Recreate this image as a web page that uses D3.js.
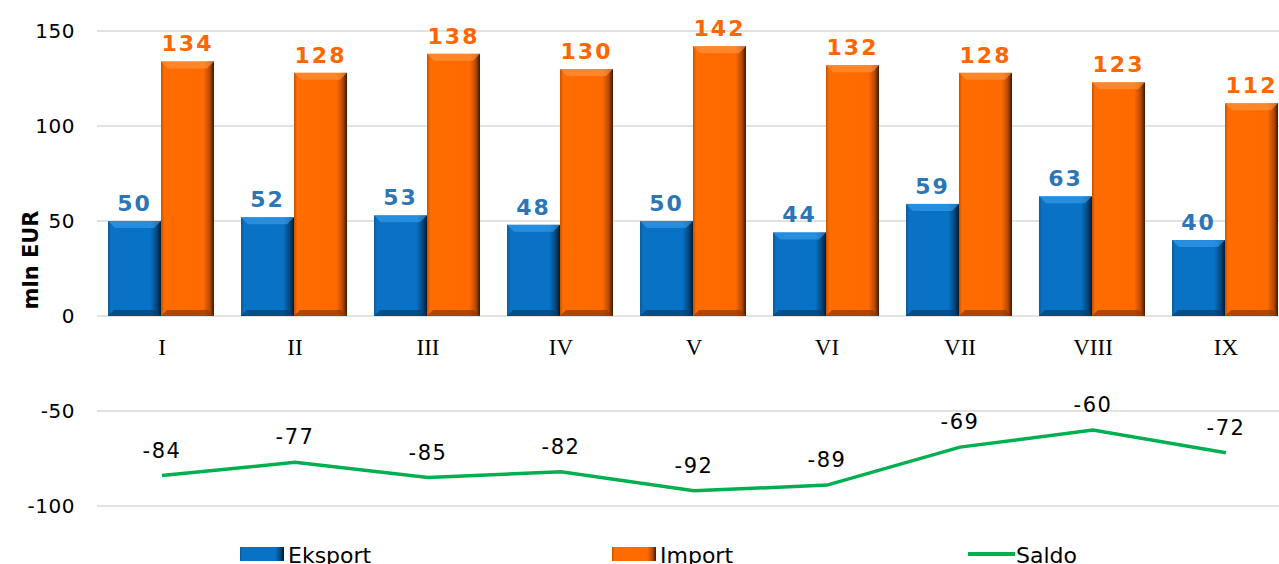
<!DOCTYPE html>
<html>
<head>
<meta charset="utf-8">
<script src="https://cdn.jsdelivr.net/npm/d3@7/dist/d3.min.js"></script>
<style>
  body { margin: 0; background: #fff; overflow: hidden; }
  text { font-family: "DejaVu Sans", Verdana, sans-serif; }
  text.cat { font-family: "Liberation Serif", "Times New Roman", serif; }
</style>
</head>
<body>
<svg id="chart"></svg>
<script>
const months  = ["I", "II", "III", "IV", "V", "VI", "VII", "VIII", "IX"];
const eksport = [50, 52, 53, 48, 50, 44, 59, 63, 40];
const imports = [134, 128, 138, 130, 142, 132, 128, 123, 112];
const saldo   = [-84, -77, -85, -82, -92, -89, -69, -60, -72];
const yTicks  = [150, 100, 50, 0, -50, -100];

const W = 1279, H = 564;
const svg = d3.select("#chart").attr("width", W).attr("height", H);

const x = d3.scaleBand().domain(months).range([95.5, 95.5 + 133 * 9]).padding(0);
const y = d3.scaleLinear().domain([-100, 150]).range([506, 31]);
const barW = 53;

// gradients
const defs = svg.append("defs");
function grad(id, stops) {
  const g = defs.append("linearGradient").attr("id", id)
    .attr("x1", "0%").attr("x2", "100%").attr("y1", "0%").attr("y2", "0%");
  stops.forEach(([o, c]) => g.append("stop").attr("offset", o).attr("stop-color", c));
}
grad("gBlue", [["0%", "#0b5a98"], ["6%", "#0a72c4"], ["80%", "#0872c6"], ["92%", "#05467a"], ["100%", "#021a30"]]);
grad("gOrange", [["0%", "#c95000"], ["6%", "#ff6c00"], ["80%", "#ff6a00"], ["92%", "#b84900"], ["100%", "#3b1800"]]);

// gridlines
svg.append("g").selectAll("line").data(yTicks).join("line")
  .attr("x1", 97).attr("x2", W)
  .attr("y1", d => y(d)).attr("y2", d => y(d))
  .attr("stroke", "#d9d9d9").attr("stroke-width", 1.5);

// y tick labels
svg.append("g").selectAll("text").data(yTicks).join("text")
  .attr("x", 75).attr("y", d => y(d) + 7)
  .attr("text-anchor", "end").attr("font-size", 20).attr("fill", "#000")
  .attr("letter-spacing", 0.5)
  .text(d => d);

// axis title
svg.append("text")
  .attr("transform", "translate(38,260) rotate(-90)")
  .attr("text-anchor", "middle").attr("font-size", 21).attr("font-weight", "bold")
  .text("mln EUR");

// category labels
svg.append("g").selectAll("text").data(months).join("text")
  .attr("class", "cat")
  .attr("x", d => x(d) + x.bandwidth() / 2).attr("y", 355)
  .attr("text-anchor", "middle")
  .attr("font-size", 23)
  .text(d => d);

function drawBars(values, offset, fillId, topCol, botCol) {
  const g = svg.append("g");
  values.forEach((v, i) => {
    const x0 = x(months[i]) + x.bandwidth() / 2 + offset;
    const yt = y(v), yb = y(0);
    g.append("rect")
      .attr("x", x0).attr("y", yt).attr("width", barW).attr("height", yb - yt)
      .attr("fill", `url(#${fillId})`);
    // top bevel
    g.append("polygon")
      .attr("points", [[x0, yt], [x0 + barW, yt], [x0 + barW - 7, yt + 7], [x0 + 7, yt + 7]].join(" "))
      .attr("fill", topCol).attr("opacity", 0.6);
    // bottom bevel
    g.append("polygon")
      .attr("points", [[x0 + 6, yb - 6], [x0 + barW - 6, yb - 6], [x0 + barW, yb], [x0, yb]].join(" "))
      .attr("fill", botCol).attr("opacity", 0.7);
  });
}
drawBars(eksport, -54, "gBlue", "#3aa2ef", "#043e6c");
drawBars(imports, -1, "gOrange", "#ff9a45", "#8a3800");

// bar labels
svg.append("g").selectAll("text").data(eksport).join("text")
  .attr("x", (d, i) => x(months[i]) + x.bandwidth() / 2 - 54 + barW / 2)
  .attr("y", d => y(d) - 10)
  .attr("text-anchor", "middle").attr("font-size", 22).attr("font-weight", "bold")
  .attr("letter-spacing", 2)
  .attr("fill", "#2e75b6").text(d => d);
svg.append("g").selectAll("text").data(imports).join("text")
  .attr("x", (d, i) => x(months[i]) + x.bandwidth() / 2 - 1 + barW / 2)
  .attr("y", d => y(d) - 10)
  .attr("text-anchor", "middle").attr("font-size", 22).attr("font-weight", "bold")
  .attr("letter-spacing", 2)
  .attr("fill", "#ff6600").text(d => d);

// saldo line
const line = d3.line()
  .x((d, i) => x(months[i]) + x.bandwidth() / 2)
  .y(d => y(d));
svg.append("path").datum(saldo)
  .attr("d", line).attr("fill", "none")
  .attr("stroke", "#00b050").attr("stroke-width", 3.5);
svg.append("g").selectAll("text").data(saldo).join("text")
  .attr("x", (d, i) => x(months[i]) + x.bandwidth() / 2)
  .attr("y", d => y(d) - 18)
  .attr("text-anchor", "middle").attr("font-size", 21).attr("fill", "#000")
  .attr("letter-spacing", 1.5)
  .text(d => d);

// legend
const lg = svg.append("g");
[
  { label: "Eksport", x: 240, fill: "url(#gBlue)", type: "rect" },
  { label: "Import", x: 612, fill: "url(#gOrange)", type: "rect" },
  { label: "Saldo", x: 968, fill: "#00b050", type: "line" }
].forEach(d => {
  if (d.type === "rect") {
    lg.append("rect").attr("x", d.x).attr("y", 547).attr("width", 44).attr("height", 14).attr("fill", d.fill);
  } else {
    lg.append("line").attr("x1", d.x).attr("x2", d.x + 47).attr("y1", 554).attr("y2", 554)
      .attr("stroke", d.fill).attr("stroke-width", 4);
  }
  lg.append("text").attr("x", d.x + 48).attr("y", 563)
    .attr("font-size", 22).text(d.label);
});
</script>
</body>
</html>
